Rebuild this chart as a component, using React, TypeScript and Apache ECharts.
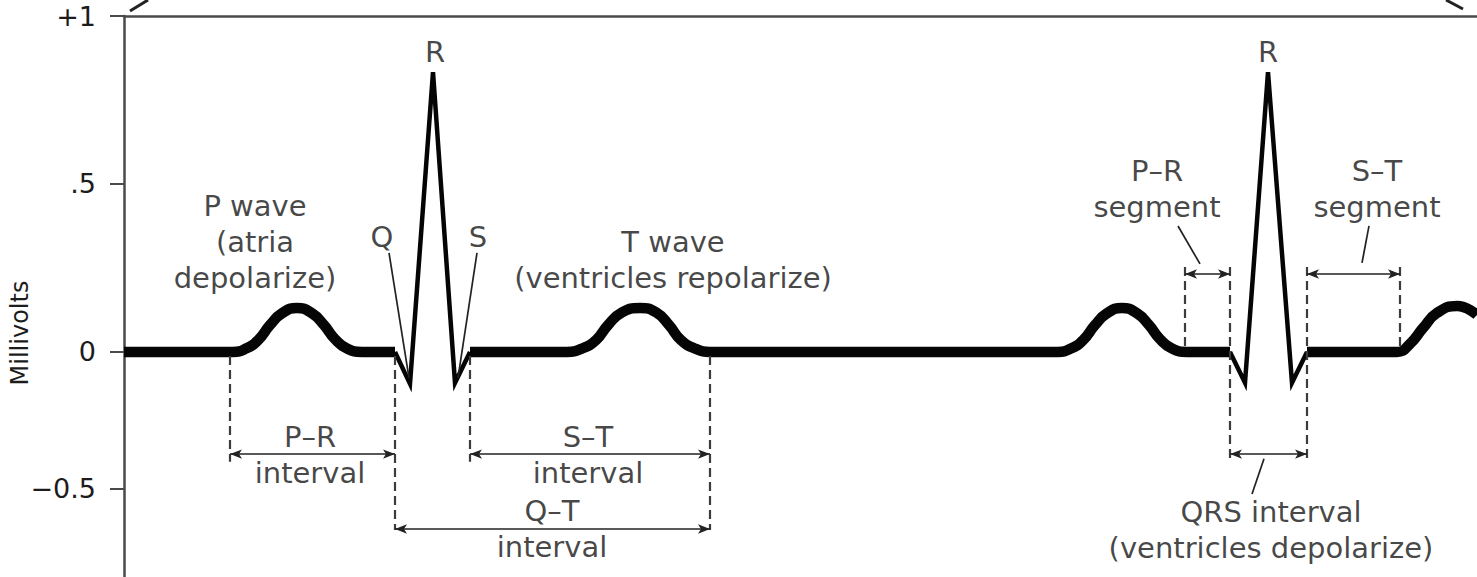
import React, { useEffect, useRef } from 'react';
import * as echarts from 'echarts';

// ---- axis ----
const xMax = 1353; // time units across the plot
const yMin = -0.67;
const yMax = 1;
const yTickValues = [1, 0.5, 0, -0.408];
const yTickLabels = ['+1', '.5', '0', '\u22120.5'];

// ---- trace pieces: [time, millivolts] ----
const restToQ1 = [
  [0, 0], [109, 0], [122, 0.01], [134, 0.035], [146, 0.08], [158, 0.115], [173, 0.131],
  [188, 0.115], [200, 0.08], [211, 0.038], [223, 0.01], [238, 0], [271, 0],
];
const qrs1 = [[271, 0], [286, -0.095], [309, 0.833], [331, -0.092], [346, 0]];
const sToQ2 = [
  [346, 0], [443, 0], [458, 0.01], [472, 0.035], [484, 0.08], [498, 0.118], [516, 0.131],
  [532, 0.118], [545, 0.08], [557, 0.035], [571, 0.01], [586, 0], [921, 0], [934, 0],
  [947, 0.01], [959, 0.035], [971, 0.08], [983, 0.115], [998, 0.131], [1013, 0.115],
  [1025, 0.08], [1036, 0.038], [1048, 0.01], [1063, 0], [1106, 0],
];
const qrs2 = [[1106, 0], [1121, -0.092], [1144, 0.833], [1168, -0.092], [1183, 0]];
const sToEnd = [
  [1183, 0], [1273, 0], [1286, 0.024], [1299, 0.071], [1313, 0.116], [1333, 0.137], [1353, 0.11],
];

// ---- annotations ----
// dashed guides: [time, fromMv, toMv]
const dashedGuides = [
  [106, -0.012, -0.327], [271, -0.012, -0.53], [346, -0.012, -0.327], [586, -0.012, -0.53],
  [1061, 0.253, 0.015], [1106, 0.253, -0.327], [1183, 0.253, -0.327], [1276, 0.253, 0.015],
];
// interval arrows: [fromTime, toTime, mv]
const intervalArrows = [
  [106, 271, -0.304], [346, 586, -0.304], [271, 586, -0.527],
  [1061, 1106, 0.232], [1106, 1183, -0.304], [1183, 1276, 0.232],
];
// leader lines: [t1, mv1, t2, mv2]
const leaderLines = [
  [265, 0.295, 285, -0.077], [353, 0.295, 334, -0.077],
  [1054, 0.375, 1076, 0.262], [1245, 0.375, 1238, 0.265], [1140, -0.318, 1128, -0.423],
];
const labelTexts = [
  'R', 'R', 'Q', 'S', 'P wave\n(atria\ndepolarize)', 'T wave\n(ventricles repolarize)',
  'P\u2013R\ninterval', 'S\u2013T\ninterval', 'Q\u2013T\ninterval',
  'P\u2013R\nsegment', 'S\u2013T\nsegment', 'QRS interval\n(ventricles depolarize)',
];
const labelAnchors = [
  [311, 0.893], [1144, 0.893], [258, 0.342], [354, 0.342], [131, 0.327], [549, 0.275],
  [186, -0.307], [464, -0.307], [428, -0.528], [1033, 0.484], [1253, 0.484], [1147, -0.531],
];

const FONT = 'DejaVu Sans';
const INK = '#161616';

export default function App() {
  const ref = useRef<HTMLDivElement>(null);
  useEffect(() => {
    const chart = echarts.init(ref.current!, null, { renderer: 'svg' });
    const thick = (d: number[][]) => ({
      type: 'line', data: d, smooth: 0.5, symbol: 'none', silent: true, z: 3,
      lineStyle: { color: '#050505', width: 10.5, join: 'round', cap: 'butt' },
    });
    const thin = (d: number[][]) => ({
      type: 'line', data: d, smooth: false, symbol: 'none', silent: true, z: 3,
      lineStyle: { color: '#050505', width: 4.5, join: 'miter' },
    });
    const option: any = {
      animation: false,
      grid: { left: 124, top: 16, right: 0, bottom: 0 },
      xAxis: {
        type: 'value', min: 0, max: xMax, position: 'top',
        axisLine: { show: true, onZero: false, lineStyle: { color: '#4a4a4a', width: 2.5 } },
        axisTick: { show: false }, axisLabel: { show: false }, splitLine: { show: false },
      },
      yAxis: {
        type: 'value', min: yMin, max: yMax,
        axisLine: { show: true, onZero: false, lineStyle: { color: '#4a4a4a', width: 2.5 } },
        axisTick: { show: true, customValues: yTickValues, length: 14, lineStyle: { color: '#4a4a4a', width: 2 } },
        axisLabel: {
          customValues: yTickValues, margin: 28, fontSize: 27, fontFamily: FONT, color: '#1c1c1c',
          formatter: (v: number) => {
            const i = yTickValues.indexOf(v);
            return i >= 0 ? yTickLabels[i] : '';
          },
        },
        splitLine: { show: false },
      },
      graphic: [
        {
          type: 'text', x: 20, y: 333, rotation: Math.PI / 2, silent: true,
          style: { text: 'Millivolts', fontSize: 24, fontFamily: FONT, fill: '#1c1c1c', align: 'center', verticalAlign: 'middle' },
        },
        { type: 'line', silent: true, shape: { x1: 130, y1: 11, x2: 148, y2: 0 }, style: { stroke: '#222', lineWidth: 3 } },
        { type: 'line', silent: true, shape: { x1: 1446, y1: 0, x2: 1463, y2: 9 }, style: { stroke: '#222', lineWidth: 3 } },
      ],
      series: [
        thick(restToQ1), thick(sToQ2), thick(sToEnd), thin(qrs1), thin(qrs2),
        {
          type: 'line', data: [], silent: true,
          markLine: {
            silent: true, animation: false, symbol: ['none', 'none'], label: { show: false },
            lineStyle: { type: [9, 5], color: '#3c3c3c', width: 2.2 },
            emphasis: { disabled: true },
            data: dashedGuides.map(([t, a, b]) => [{ coord: [t, a] }, { coord: [t, b] }]),
          },
        },
        {
          type: 'line', data: [], silent: true,
          markLine: {
            silent: true, animation: false, symbol: ['arrow', 'arrow'], symbolSize: 10, label: { show: false },
            lineStyle: { type: 'solid', color: '#222', width: 1.6 },
            emphasis: { disabled: true },
            data: intervalArrows.map(([a, b, v]) => [
              { coord: [a, v], symbolSize: [7, 12] }, { coord: [b, v], symbolSize: [7, 12] },
            ]),
          },
        },
        {
          type: 'line', data: [], silent: true,
          markLine: {
            silent: true, animation: false, symbol: ['none', 'none'], label: { show: false },
            lineStyle: { type: 'solid', color: '#222', width: 1.7 },
            emphasis: { disabled: true },
            data: leaderLines.map(([t1, v1, t2, v2]) => [{ coord: [t1, v1] }, { coord: [t2, v2] }]),
          },
        },
        {
          type: 'scatter', silent: true, z: 10, symbolSize: 1,
          itemStyle: { color: 'rgba(0,0,0,0)' },
          data: labelTexts.map((name, i) => ({ name, value: labelAnchors[i] })),
          label: {
            show: true, position: 'inside', formatter: '{b}', fontFamily: FONT, fontSize: 29,
            color: INK, lineHeight: 36, align: 'center', verticalAlign: 'middle',
          },
        },
      ],
    };
    chart.setOption(option);
    return () => chart.dispose();
  }, []);
  return <div ref={ref} style={{ position: 'absolute', left: 0, top: 0, width: 1477, height: 577 }} />;
}
